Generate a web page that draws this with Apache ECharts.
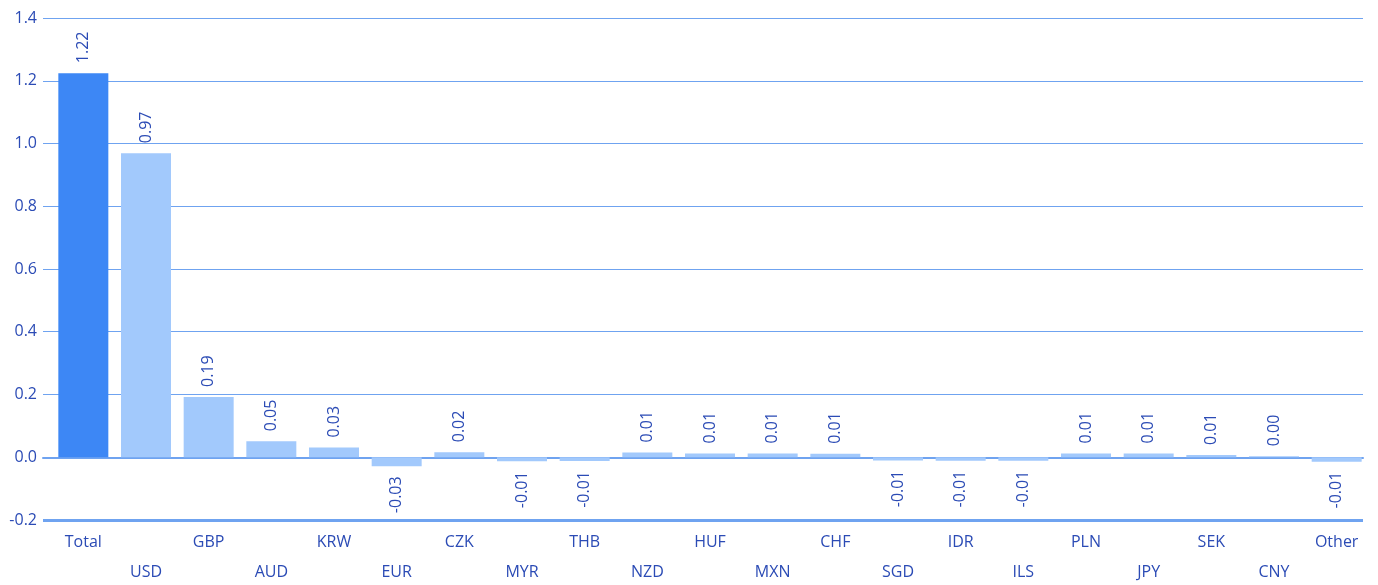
<!DOCTYPE html>
<html>
<head>
<meta charset="utf-8">
<script src="https://cdn.jsdelivr.net/npm/echarts@6/dist/echarts.min.js"></script>
<style>html,body{margin:0;padding:0;background:#fff}#c{width:1378px;height:585px}</style>
</head>
<body>
<div id="c"></div>
<script>
const categories = ['Total','USD','GBP','AUD','KRW','EUR','CZK','MYR','THB','NZD','HUF','MXN','CHF','SGD','IDR','ILS','PLN','JPY','SEK','CNY','Other'];
const values = [1.224, 0.969, 0.192, 0.051, 0.031, -0.029, 0.016, -0.013, -0.012, 0.015, 0.012, 0.012, 0.011, -0.010, -0.011, -0.011, 0.012, 0.012, 0.007, 0.003, -0.014];
const yTicks = { min: -0.2, max: 1.4, interval: 0.2 };

const FONT = '"Open Sans", sans-serif';
const TEXT = '#2b4bb5';
const LINE = '#6fa3f0';

const chart = echarts.init(document.getElementById('c'), null, { renderer: 'canvas' });

const data = values.map((v, i) => ({
  value: v,
  itemStyle: { color: i === 0 ? '#3d87f5' : '#a2c9fc' },
  label: v >= 0
    ? { position: 'top', rotate: 90, align: 'left', verticalAlign: 'middle', distance: 10 }
    : { position: 'bottom', rotate: 90, align: 'right', verticalAlign: 'middle', distance: 10 }
}));

chart.setOption({
  animation: false,
  grid: [
    { left: 43, right: 15, top: 18, bottom: 65, containLabel: false, outerBoundsMode: 'none' },
    { left: 52, right: 10, top: 18, bottom: 65, containLabel: false, outerBoundsMode: 'none' }
  ],
  xAxis: [
    {
      type: 'category', gridIndex: 0, data: categories,
      axisLine: { show: true, onZero: true, lineStyle: { color: LINE, width: 2 } },
      axisTick: { show: false }, axisLabel: { show: false }, splitLine: { show: false }
    },
    {
      type: 'category', gridIndex: 1, data: categories,
      axisLine: { show: false }, axisTick: { show: false },
      axisLabel: {
        interval: 0, margin: 7, color: TEXT, fontFamily: FONT, fontSize: 16, lineHeight: 30,
        formatter: (v, i) => (i % 2 === 1 ? '\n' + v : v)
      }
    }
  ],
  yAxis: [
    {
      type: 'value', gridIndex: 0, min: yTicks.min, max: yTicks.max, interval: yTicks.interval,
      axisLine: { show: false }, axisTick: { show: false },
      splitLine: { lineStyle: { color: LINE, width: 1 } },
      axisLabel: { color: TEXT, fontFamily: FONT, fontSize: 16, margin: 6, formatter: v => v.toFixed(1) }
    },
    {
      type: 'value', gridIndex: 1, min: yTicks.min, max: yTicks.max, interval: yTicks.interval, show: false,
      splitLine: { show: false }
    }
  ],
  series: [
    {
      type: 'line', xAxisIndex: 0, yAxisIndex: 0, data: [], silent: true,
      markLine: {
        silent: true, symbol: 'none', label: { show: false },
        lineStyle: { color: LINE, width: 3, type: 'solid' },
        data: [{ yAxis: -0.2 }]
      }
    },
    {
      type: 'bar', xAxisIndex: 1, yAxisIndex: 1, data: data, barWidth: 50,
      label: {
        show: true, color: TEXT, fontFamily: FONT, fontSize: 16,
        formatter: p => p.value.toFixed(2)
      }
    }
  ]
});
</script>
</body>
</html>
